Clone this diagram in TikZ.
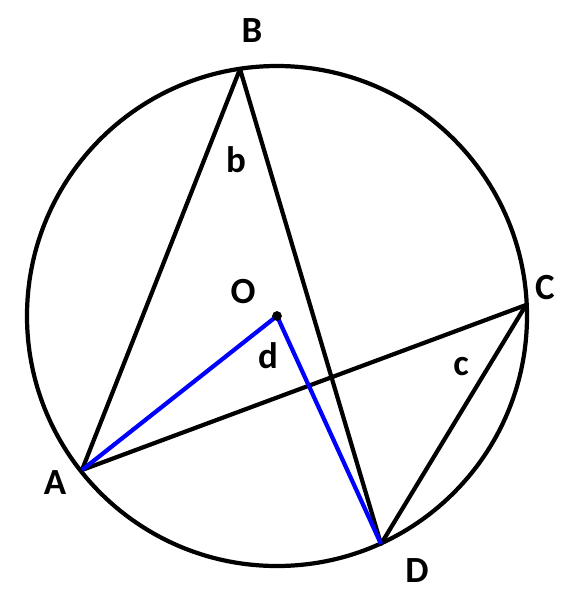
\documentclass[tikz,border=0pt]{standalone}
\usepackage{xcolor}
\usepackage{fontspec}
\setmainfont{Carlito}
\tikzset{
  chord/.style = {line width = 2.4pt, black},
  bluechord/.style = {line width = 2.4pt, blue},
  lbl/.style = {font = \fontsize{21}{24}\selectfont\bfseries, inner sep = 0pt}
}
\begin{document}
\begin{tikzpicture}[x = 0.02cm, y = -0.02cm]
      \useasboundingbox (0, 0) rectangle (572, 600);
      \coordinate (O) at (277, 316);
      \draw[chord] (O) circle [radius = 250];
      \coordinate (A) at (82, 470);
      \coordinate (B) at (240, 69);
      \coordinate (C) at (526, 305);
      \coordinate (D) at (381, 544);
      \draw[chord, line join = round] (A) -- (B) -- (D) -- (C) -- cycle;
      \draw[bluechord, line join = round] (A) -- (O) -- (D);
      \node [circle, draw, fill, line width = .5pt, color = black, inner sep = 0pt, minimum size = 5pt] (o) at (O) {};
      \node [lbl] (la) at (55, 483) {A};
      \node [lbl] (lb) at (252, 31) {B};
      \node [lbl] (lc) at (545, 288) {C};
      \node [lbl] (ld) at (417, 571) {D};
      \node [lbl] (lo) at (243, 292) {O};
      \node [lbl] (ab) at (236, 160) {b};
      \node [lbl] (ac) at (461, 367) {c};
      \node [lbl] (ad) at (268, 356) {d};
    \end{tikzpicture}
\end{document}
